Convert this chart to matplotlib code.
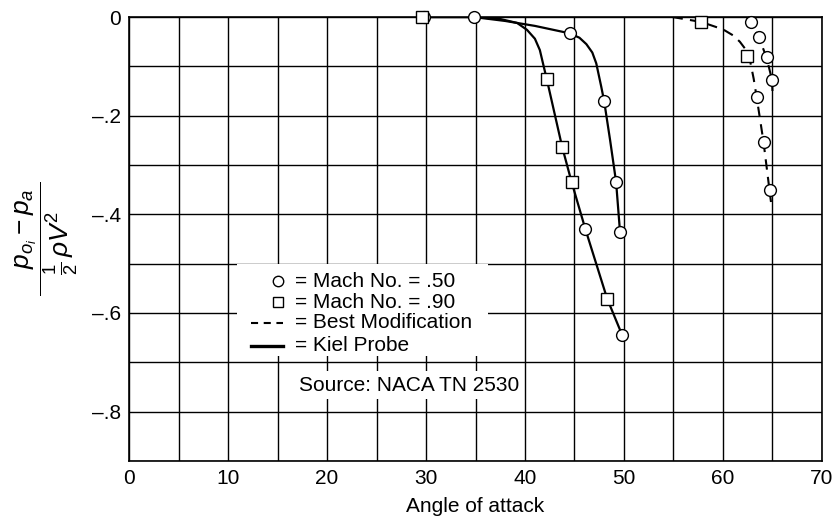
import matplotlib
matplotlib.use("Agg")
import matplotlib.pyplot as plt
from matplotlib.patches import Rectangle
from matplotlib.ticker import MultipleLocator, FixedLocator

plt.rcParams['font.family'] = ['Liberation Sans', 'DejaVu Sans']
plt.rcParams['mathtext.fontset'] = 'custom'
plt.rcParams['mathtext.rm'] = 'Liberation Sans'
plt.rcParams['mathtext.it'] = 'Liberation Sans:italic'

# Kiel probe curves (solid)
kiel_m50_x = [29.8, 34.8, 38.0, 41.0, 44.5, 45.5, 46.2, 46.8, 47.2, 47.7, 48.0, 48.6, 49.2, 49.6]
kiel_m50_y = [0.0, 0.0, -0.008, -0.018, -0.033, -0.042, -0.055, -0.072, -0.094, -0.141, -0.171, -0.25, -0.334, -0.436]
kiel_m90_x = [29.6, 34.8, 37.5, 39.2, 40.2, 41.0, 41.5, 41.9, 42.2, 43.75, 44.7, 46.1, 48.3, 49.8]
kiel_m90_y = [0.0, 0.0, -0.004, -0.012, -0.026, -0.044, -0.067, -0.101, -0.126, -0.263, -0.334, -0.43, -0.571, -0.644]

# Best modification curves (dashed)
best_a_x = [54.9, 57.8, 60.0, 61.0, 61.7, 62.3, 62.7, 62.9, 63.1, 63.4, 64.1, 64.7, 64.85]
best_a_y = [0.0, -0.01, -0.025, -0.037, -0.05, -0.066, -0.085, -0.105, -0.125, -0.162, -0.254, -0.351, -0.375]
best_b_x = [62.4, 62.8, 63.6, 64.4, 64.95, 65.0]
best_b_y = [0.0, -0.01, -0.04, -0.082, -0.127, -0.15]

# data points
m50_x = [29.8, 34.8, 44.5, 48.0, 49.2, 49.6, 46.1, 49.8, 62.8, 63.6, 64.4, 64.95, 63.4, 64.1, 64.7]
m50_y = [0.0, 0.0, -0.033, -0.171, -0.334, -0.436, -0.43, -0.644, -0.01, -0.04, -0.082, -0.127, -0.162, -0.254, -0.351]
m90_x = [29.6, 42.2, 43.75, 44.7, 48.3, 57.8, 62.45]
m90_y = [0.0, -0.126, -0.263, -0.334, -0.571, -0.01, -0.079]

x_ticks = [0, 10, 20, 30, 40, 50, 60, 70]
y_ticks = [0, -0.2, -0.4, -0.6, -0.8]
y_tick_labels = ['0', '\u2013.2', '\u2013.4', '\u2013.6', '\u2013.8']
legend_labels = ['= Mach No. = .50', '= Mach No. = .90', '= Best Modification', '= Kiel Probe']

fig = plt.figure(figsize=(8.39, 5.22), dpi=100)
ax = fig.add_axes([0.1538, 0.1169, 0.8259, 0.8505])

dash = (0, (5, 3.5))
ax.plot(kiel_m50_x, kiel_m50_y, color='black', lw=1.6, zorder=3)
ax.plot(kiel_m90_x, kiel_m90_y, color='black', lw=1.6, zorder=3)
ax.plot(best_a_x, best_a_y, color='black', lw=1.5, ls=dash, zorder=3)
ax.plot(best_b_x, best_b_y, color='black', lw=1.5, ls=dash, zorder=3)

ax.plot(m50_x, m50_y, 'o', ms=8.5, mfc='white', mec='black', mew=1.0, ls='none', zorder=4, clip_on=False)
ax.plot(m90_x, m90_y, 's', ms=8, mfc='white', mec='black', mew=1.0, ls='none', zorder=4, clip_on=False)

ax.set_xlim(0, 70)
ax.set_ylim(-0.9, 0)
ax.xaxis.set_major_locator(FixedLocator(x_ticks))
ax.xaxis.set_minor_locator(MultipleLocator(5))
ax.yaxis.set_major_locator(FixedLocator(y_ticks))
ax.yaxis.set_minor_locator(MultipleLocator(0.1))
ax.set_yticklabels(y_tick_labels)
ax.tick_params(which='both', length=0, labelsize=15)
ax.tick_params(axis='x', pad=6)
ax.tick_params(axis='y', pad=6)
ax.grid(which='both', color='black', lw=1.0)
ax.set_axisbelow(True)
for s in ax.spines.values():
    s.set_linewidth(1.2)

ax.set_xlabel('Angle of attack', fontsize=15, labelpad=6)
ax.set_ylabel(r'$\dfrac{\quad p_{o_i} - p_a}{\quad\frac{1}{2}\,\rho V^2\quad\;}$', fontsize=19, labelpad=8)

# legend box drawn by hand (markers sit at the right of the handle, as in the original)
tr = ax.transAxes
ax.add_patch(Rectangle((0.156, 0.236), 0.362, 0.208, transform=tr, facecolor='white',
                       edgecolor='none', zorder=5))
rows = [0.405, 0.358, 0.311, 0.259]
ax.plot([0.215], [rows[0]], 'o', ms=7.5, mfc='white', mec='black', mew=1.0, transform=tr, zorder=6)
ax.plot([0.215], [rows[1]], 's', ms=7, mfc='white', mec='black', mew=1.0, transform=tr, zorder=6)
ax.plot([0.176, 0.222], [rows[2]] * 2, color='black', lw=1.5, ls=(0, (3.4, 2.7)), transform=tr, zorder=6)
ax.plot([0.176, 0.222], [rows[3]] * 2, color='black', lw=2.4, transform=tr, zorder=6)
for yy, lab in zip(rows, legend_labels):
    ax.text(0.2395, yy, lab, fontsize=15, ha='left', va='center', transform=tr, zorder=6)

ax.text(28.3, -0.746, 'Source: NACA TN 2530', fontsize=15, ha='center', va='center',
        bbox=dict(facecolor='white', edgecolor='none', pad=3), zorder=5)

fig.savefig('out.png', dpi=100)
